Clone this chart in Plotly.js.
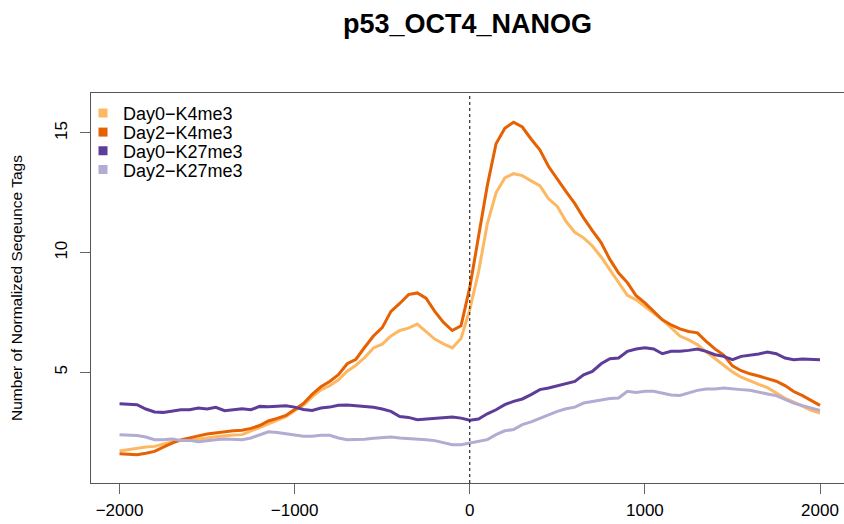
<!DOCTYPE html>
<html>
<head>
<meta charset="utf-8">
<script src="https://cdn.plot.ly/plotly-3.0.1.min.js"></script>
<style>
  html, body { margin: 0; padding: 0; background: #ffffff; }
  #chart { width: 844px; height: 524px; }
</style>
</head>
<body>
<div id="chart"></div>
<script>
// Distance from TSS (bp)
const positions = [
  -2000, -1950, -1900, -1850, -1800, -1750, -1700, -1650, -1600, -1550,
  -1500, -1450, -1400, -1350, -1300, -1250, -1200, -1150, -1100, -1050,
  -1000, -950, -900, -850, -800, -750, -700, -650, -600, -550,
  -500, -450, -400, -350, -300, -250, -200, -150, -100, -50,
  0, 50, 100, 150, 200, 250, 300, 350, 400, 450,
  500, 550, 600, 650, 700, 750, 800, 850, 900, 950,
  1000, 1050, 1100, 1150, 1200, 1250, 1300, 1350, 1400, 1450,
  1500, 1550, 1600, 1650, 1700, 1750, 1800, 1850, 1900, 1950, 2000
];

const day0K4me3 = [
  1.72, 1.78, 1.84, 1.88, 1.91, 2.02, 2.10, 2.15, 2.18, 2.22,
  2.26, 2.31, 2.36, 2.38, 2.40, 2.55, 2.70, 2.85, 2.98, 3.15,
  3.40, 3.62, 3.98, 4.27, 4.44, 4.69, 5.05, 5.30, 5.62, 6.02,
  6.18, 6.52, 6.75, 6.85, 7.02, 6.70, 6.39, 6.19, 6.02, 6.42,
  7.62, 9.20, 11.20, 12.50, 13.12, 13.30, 13.22, 13.00, 12.80, 12.25,
  11.93, 11.30, 10.85, 10.62, 10.28, 9.82, 9.29, 8.74, 8.22, 8.03,
  7.76, 7.48, 7.20, 6.86, 6.52, 6.36, 6.16, 5.86, 5.57, 5.28,
  5.02, 4.80, 4.64, 4.50, 4.36, 4.14, 3.92, 3.76, 3.59, 3.41, 3.30
];

const day2K4me3 = [
  1.60, 1.58, 1.56, 1.62, 1.70, 1.88, 2.05, 2.18, 2.28, 2.35,
  2.43, 2.48, 2.54, 2.56, 2.58, 2.66, 2.78, 2.97, 3.08, 3.20,
  3.45, 3.70, 4.08, 4.40, 4.62, 4.90, 5.36, 5.55, 6.05, 6.52,
  6.87, 7.55, 7.88, 8.25, 8.32, 8.10, 7.55, 7.09, 6.75, 6.95,
  8.55, 10.60, 12.80, 14.55, 15.20, 15.45, 15.25, 14.75, 14.30, 13.60,
  13.05, 12.55, 12.05, 11.45, 10.92, 10.42, 9.72, 9.15, 8.75, 8.20,
  7.90, 7.55, 7.20, 6.98, 6.82, 6.71, 6.65, 6.30, 5.98, 5.72,
  5.27, 5.07, 4.94, 4.85, 4.75, 4.63, 4.45, 4.20, 4.03, 3.82, 3.62
];

const day0K27me3 = [
  3.69, 3.67, 3.65, 3.47, 3.35, 3.33, 3.37, 3.44, 3.44, 3.51,
  3.47, 3.54, 3.40, 3.44, 3.48, 3.44, 3.58, 3.56, 3.58, 3.61,
  3.55, 3.45, 3.41, 3.51, 3.55, 3.63, 3.64, 3.61, 3.57, 3.54,
  3.47, 3.37, 3.16, 3.12, 3.02, 3.05, 3.09, 3.14, 3.14, 3.09,
  3.00, 3.05, 3.27, 3.44, 3.65, 3.79, 3.89, 4.07, 4.28, 4.35,
  4.44, 4.53, 4.62, 4.90, 5.04, 5.36, 5.57, 5.60, 5.88, 5.98,
  6.03, 5.98, 5.78, 5.88, 5.88, 5.92, 5.98, 5.88, 5.74, 5.67,
  5.53, 5.67, 5.71, 5.77, 5.85, 5.78, 5.60, 5.53, 5.56, 5.53, 5.53
];

const day2K27me3 = [
  2.40, 2.38, 2.36, 2.30, 2.19, 2.19, 2.22, 2.16, 2.16, 2.10,
  2.16, 2.19, 2.22, 2.22, 2.19, 2.26, 2.40, 2.52, 2.49, 2.44,
  2.38, 2.33, 2.33, 2.37, 2.37, 2.26, 2.19, 2.19, 2.21, 2.25,
  2.28, 2.30, 2.26, 2.24, 2.23, 2.19, 2.15, 2.05, 1.98, 1.98,
  2.05, 2.09, 2.19, 2.40, 2.56, 2.61, 2.82, 2.93, 3.09, 3.23,
  3.37, 3.48, 3.55, 3.72, 3.78, 3.86, 3.91, 3.93, 4.21, 4.16,
  4.21, 4.21, 4.14, 4.06, 4.04, 4.14, 4.25, 4.31, 4.31, 4.35,
  4.33, 4.28, 4.25, 4.16, 4.10, 4.03, 3.86, 3.72, 3.61, 3.51, 3.41
];

const seriesNames = ["Day0\u2212K4me3", "Day2\u2212K4me3", "Day0\u2212K27me3", "Day2\u2212K27me3"];
const seriesValues = [day0K4me3, day2K4me3, day0K27me3, day2K27me3];
const seriesColors = ["#FDB863", "#E66101", "#5E3C99", "#B2ABD2"];
const xTickValues = [-2000, -1000, 0, 1000, 2000];
const xTickLabels = ["\u22122000", "\u22121000", "0", "1000", "2000"];
const yTickValues = [5, 10, 15];
const tssPosition = 0;

const FONT = "Liberation Sans, Arial, Helvetica, sans-serif";
const legendIds = ["legend", "legend2", "legend3", "legend4"];
const legendRowsY = [0.948, 0.899, 0.851, 0.803];

const traces = [];
// the profile lines
seriesNames.forEach((name, i) => {
  traces.push({
    type: "scatter",
    mode: "lines",
    x: positions,
    y: seriesValues[i],
    name: name,
    showlegend: false,
    line: { color: seriesColors[i], width: 3 },
    hoverinfo: "x+y+name"
  });
});
// legend entries with square keys (R-style), one legend per row for R-like spacing
seriesNames.forEach((name, i) => {
  traces.push({
    type: "scatter",
    mode: "markers",
    x: [null],
    y: [null],
    name: name,
    legend: legendIds[i],
    showlegend: true,
    marker: { color: seriesColors[i], symbol: "square", size: 9 },
    hoverinfo: "skip"
  });
});

const layout = {
  width: 844,
  height: 524,
  margin: { l: 91, r: 0, t: 93, b: 41, pad: 0 },
  paper_bgcolor: "#ffffff",
  plot_bgcolor: "#ffffff",
  font: { family: FONT, size: 16, color: "#000000" },
  title: {
    text: "<b>p53_OCT4_NANOG</b>",
    font: { family: FONT, size: 27, color: "#000000" },
    x: 0.5,
    xref: "paper",
    xanchor: "center",
    y: 1 - 23.5 / 524,
    yanchor: "middle"
  },
  xaxis: {
    range: [-2163, 2137],
    showgrid: false,
    zeroline: false,
    showline: true,
    mirror: true,
    linecolor: "#555555",
    linewidth: 1,
    ticks: "outside",
    ticklen: 10,
    tickwidth: 1,
    tickcolor: "#666666",
    tickvals: xTickValues,
    ticktext: xTickLabels,
    ticklabelstandoff: 2,
    tickfont: { family: FONT, size: 17, color: "#000000" },
    fixedrange: true
  },
  yaxis: {
    range: [0.38, 16.67],
    showgrid: false,
    zeroline: false,
    showline: true,
    mirror: false,
    linecolor: "#555555",
    linewidth: 1,
    ticks: "outside",
    ticklen: 10,
    tickwidth: 1,
    tickcolor: "#666666",
    tickvals: yTickValues,
    ticktext: yTickValues.map(String),
    tickangle: -90,
    ticklabelstandoff: 6,
    tickfont: { family: FONT, size: 17, color: "#000000" },
    title: {
      text: "Number of Normalized Seqeunce Tags",
      font: { family: FONT, size: 15.5, color: "#000000" },
      standoff: 25
    },
    fixedrange: true
  },
  shapes: [{
    type: "line",
    xref: "x",
    yref: "paper",
    x0: tssPosition, x1: tssPosition,
    y0: 0, y1: 1,
    line: { color: "#000000", width: 1, dash: "3px,3px" }
  }],
  showlegend: true
};

legendIds.forEach((id, i) => {
  layout[id] = {
    x: -0.0106,
    y: legendRowsY[i],
    xanchor: "left",
    yanchor: "middle",
    bgcolor: "rgba(0,0,0,0)",
    borderwidth: 0,
    font: { family: FONT, size: 18, color: "#000000" },
    itemwidth: 30
  };
});

Plotly.newPlot("chart", traces, layout, { displayModeBar: false, staticPlot: true });
</script>
</body>
</html>
